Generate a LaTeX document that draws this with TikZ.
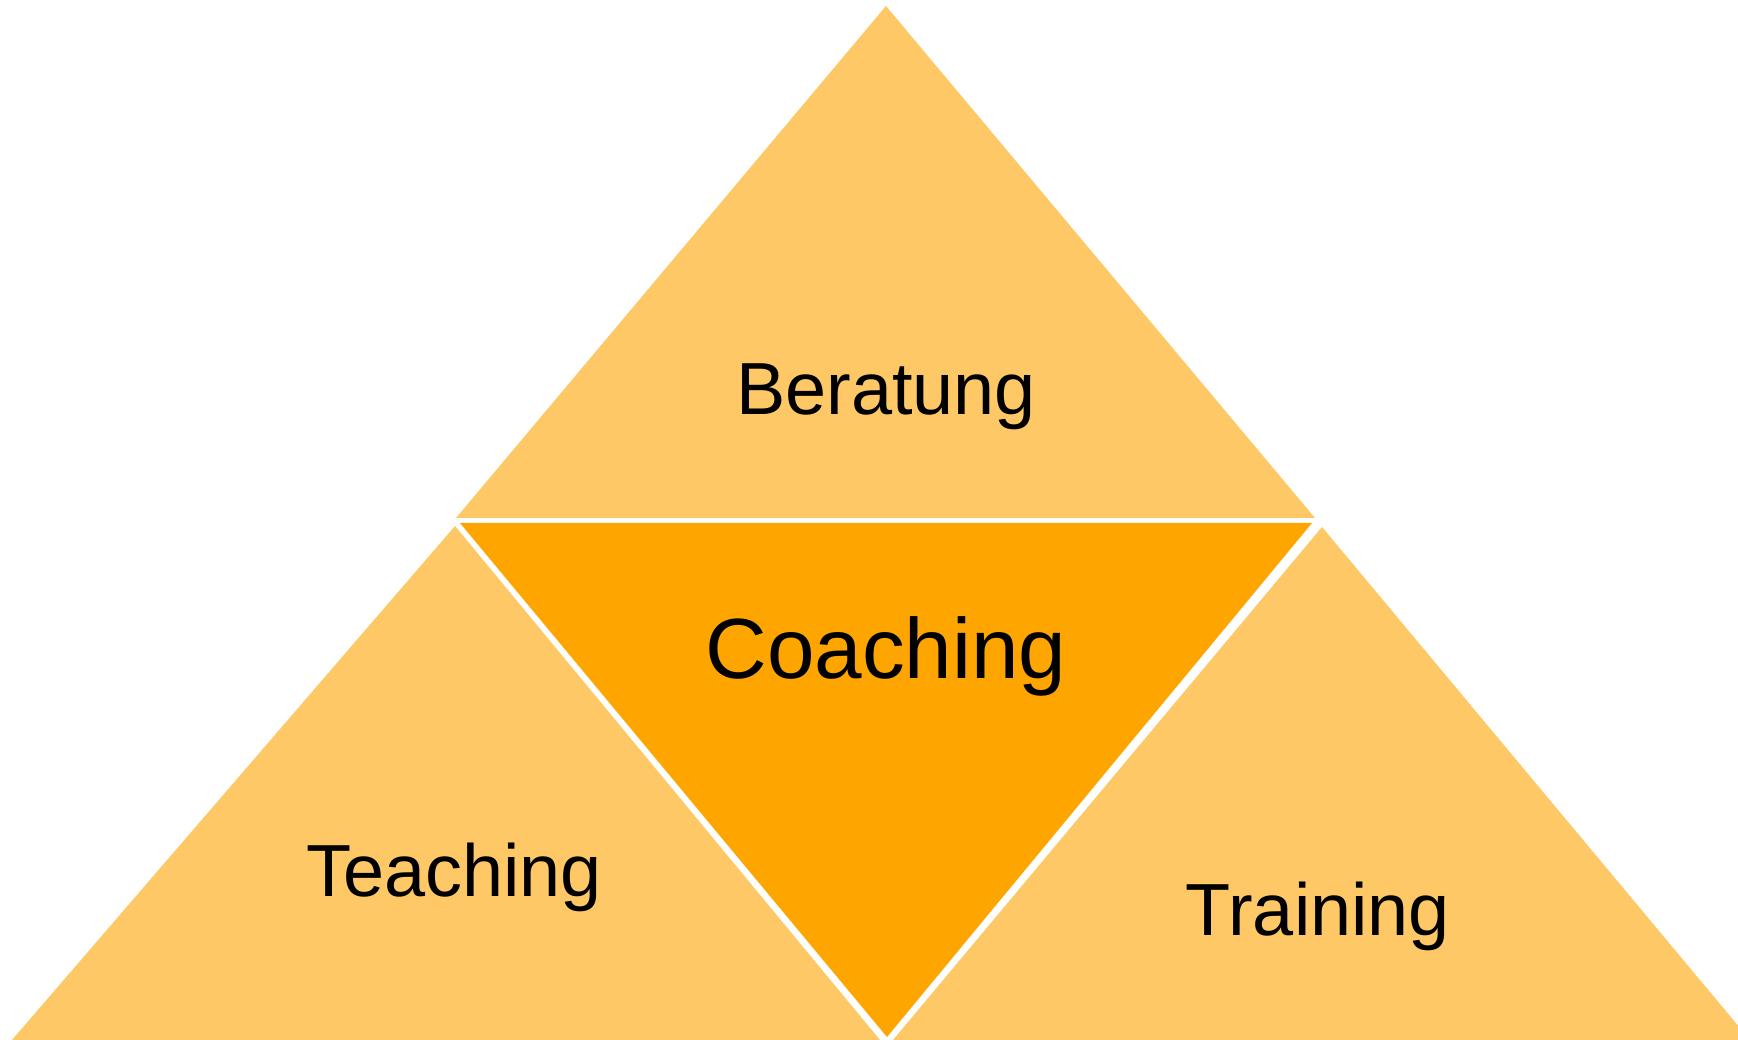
\documentclass[tikz,border=0pt]{standalone}
\usepackage{fontspec}
\setmainfont{Liberation Sans}
\definecolor{lightorange}{HTML}{FEC866}
\definecolor{darkorange}{HTML}{FFA500}
\tikzset{
    side/.style = {anchor=base, font=\fontsize{21pt}{24pt}\selectfont},
    centre/.style = {anchor=base, font=\fontsize{24.3pt}{28pt}\selectfont}
}

\begin{document}
\begin{tikzpicture}[x=0.01cm, y=-0.01cm]
        \clip (0,0) rectangle (1738,1040);
        \fill[white] (0,0) rectangle (1738,1040);
        % four triangles, white gaps between them
        \fill[lightorange] (886,6) -- (456,518) -- (1315,518) -- cycle;
        \fill[darkorange] (460,523) -- (1312,523) -- (887,1037) -- cycle;
        \fill[lightorange] (455,526) -- (12,1040) -- (880,1040) -- cycle;
        \fill[lightorange] (1322,527) -- (893,1040) -- (1750,1040) -- cycle;
        \node[side] (beratung) at (886,415) {Beratung};
        \node[centre] (coaching) at (886,679) {Coaching};
        \node[side] (teaching) at (454,897) {Teaching};
        \node[side] (training) at (1318,936) {Training};
    \end{tikzpicture}
\end{document}
